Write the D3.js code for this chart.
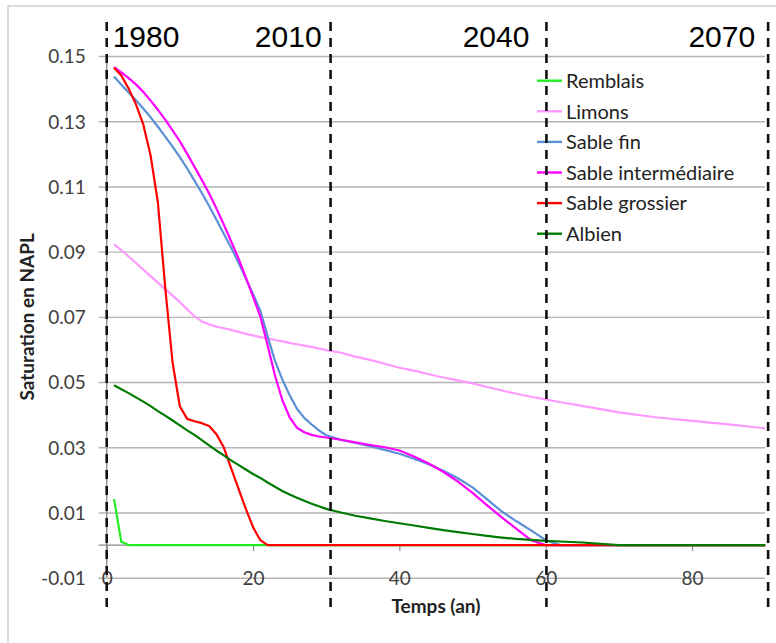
<!DOCTYPE html>
<html>
<head>
<meta charset="utf-8">
<script src="https://cdn.jsdelivr.net/npm/d3@7"></script>
<style>
  html, body { margin: 0; padding: 0; background: #ffffff; }
  svg { display: block; }
  text { font-family: Lato, "Open Sans", sans-serif; }
</style>
</head>
<body>
<svg id="chart" width="776" height="643"></svg>
<script>
// Temps (an) at which each series is sampled
const years = [1, 2, 3, 4, 5, 6, 7, 8, 9, 10, 11, 12, 13, 14, 15, 16, 17, 18, 19, 20,
  21, 22, 23, 24, 25, 26, 27, 28, 29, 30, 32, 34, 36, 38, 40, 42, 44, 46, 48, 50,
  52, 54, 56, 58, 60, 62, 65, 70, 75, 80, 85, 90];

const remblais = [0.0141, 0.0010, 0, 0, 0, 0, 0, 0, 0, 0, 0, 0, 0, 0, 0, 0, 0, 0, 0, 0,
  0, 0, 0, 0, 0, 0, 0, 0, 0, 0, 0, 0, 0, 0, 0, 0, 0, 0, 0, 0,
  0, 0, 0, 0, 0, 0, 0, 0, 0, 0, 0, 0];

const limons = [0.0922, 0.0905, 0.0885, 0.0865, 0.0845, 0.0825, 0.0805, 0.0785, 0.0765, 0.0745,
  0.0723, 0.0702, 0.0686, 0.0677, 0.0670, 0.0665, 0.0660, 0.0654, 0.0648, 0.0643,
  0.0638, 0.0634, 0.0629, 0.0625, 0.0620, 0.0616, 0.0612, 0.0608, 0.0603, 0.0598,
  0.0590, 0.0578, 0.0568, 0.0556, 0.0544, 0.0535, 0.0524, 0.0514, 0.0505, 0.0496,
  0.0485, 0.0474, 0.0464, 0.0455, 0.0447, 0.0438, 0.0427, 0.0407, 0.0392, 0.0381, 0.0370, 0.0358];

const sableFin = [0.1437, 0.1412, 0.1388, 0.1364, 0.1339, 0.1312, 0.1283, 0.1253, 0.1222, 0.1190,
  0.1155, 0.1118, 0.1080, 0.1040, 0.0998, 0.0955, 0.0913, 0.0867, 0.0818, 0.0770,
  0.0718, 0.0640, 0.0565, 0.0508, 0.0460, 0.0418, 0.0390, 0.0370, 0.0352, 0.0337,
  0.0323, 0.0313, 0.0303, 0.0292, 0.0280, 0.0265, 0.0248, 0.0228, 0.0205, 0.0177,
  0.0140, 0.0103, 0.0073, 0.0045, 0.0015, 0, 0, 0, 0, 0, 0, 0];

const sableInter = [0.1466, 0.1450, 0.1432, 0.1413, 0.1390, 0.1363, 0.1335, 0.1305, 0.1272, 0.1238,
  0.1200, 0.1160, 0.1120, 0.1078, 0.1032, 0.0983, 0.0932, 0.0880, 0.0822, 0.0762,
  0.0700, 0.0612, 0.0520, 0.0445, 0.0392, 0.0360, 0.0346, 0.0338, 0.0333, 0.0330,
  0.0323, 0.0315, 0.0307, 0.0300, 0.0290, 0.0272, 0.0250, 0.0225, 0.0195, 0.0160,
  0.0122, 0.0085, 0.0050, 0.0015, 0, 0, 0, 0, 0, 0, 0, 0];

const sableGrossier = [0.1464, 0.1440, 0.1400, 0.1352, 0.1290, 0.1195, 0.1050, 0.0790, 0.0560, 0.0425,
  0.0387, 0.0380, 0.0374, 0.0365, 0.0340, 0.0300, 0.0236, 0.0174, 0.0112, 0.0055,
  0.0015, 0, 0, 0, 0, 0, 0, 0, 0, 0, 0, 0, 0, 0, 0, 0, 0, 0, 0, 0,
  0, 0, 0, 0, 0, 0, 0, 0, 0, 0, 0, 0];

const albien = [0.0490, 0.0478, 0.0466, 0.0453, 0.0440, 0.0426, 0.0411, 0.0397, 0.0382, 0.0367,
  0.0352, 0.0338, 0.0322, 0.0306, 0.0290, 0.0275, 0.0260, 0.0246, 0.0232, 0.0218,
  0.0206, 0.0192, 0.0179, 0.0166, 0.0155, 0.0145, 0.0136, 0.0127, 0.0119, 0.0111,
  0.0100, 0.0090, 0.0082, 0.0074, 0.0067, 0.0060, 0.0053, 0.0046, 0.0040, 0.0034,
  0.0028, 0.0023, 0.0019, 0.0016, 0.0013, 0.0011, 0.0008, 0, 0, 0, 0, 0];

const seriesNames = ["Remblais", "Limons", "Sable fin", "Sable intermédiaire", "Sable grossier", "Albien"];
const seriesValues = [remblais, limons, sableFin, sableInter, sableGrossier, albien];
const seriesColors = ["#22ee22", "#ff99ff", "#5b8fd6", "#ff00ff", "#ff0000", "#007a00"];

const yTicks = [-0.01, 0.01, 0.03, 0.05, 0.07, 0.09, 0.11, 0.13, 0.15];
const xTicks = [0, 20, 40, 60, 80];

// Period markers (calendar year drawn above each dashed line)
const periodLabels = ["1980", "2010", "2040", "2070"];
const periodTimes = [0, 30.6, 60.1, 90.4];

const svg = d3.select("#chart");

const x = d3.scaleLinear().domain([0, 90]).range([106.7, 765.2]);
const y = d3.scaleLinear().domain([-0.01, 0.15]).range([577.7, 56]);

// Plain hyphen for negatives, two decimals
const fmtY = d => (d < 0 ? "-" : "") + Math.abs(d).toFixed(2);

// Outer frame
svg.append("path")
  .attr("d", "M8,650 L8,6 L790,6")
  .attr("fill", "none")
  .attr("stroke", "#cfcfcf")
  .attr("stroke-width", 1.5);

// Horizontal gridlines with left tick marks
const yAxis = d3.axisLeft(y)
  .tickValues(yTicks)
  .tickSize(-(x.range()[1] - x.range()[0]) - 8)
  .tickFormat(fmtY);

const gy = svg.append("g")
  .attr("transform", `translate(${x.range()[0] - 8},0)`)
  .call(yAxis);
gy.select(".domain").remove();
gy.selectAll(".tick line")
  .attr("stroke", "#b4b4b4")
  .attr("stroke-width", 1.4);
gy.selectAll(".tick text")
  .attr("x", -13)
  .attr("dy", "0.36em")
  .attr("fill", "#404040")
  .style("font-size", "19px");

// Vertical value axis line
svg.append("line")
  .attr("x1", x(0)).attr("x2", x(0))
  .attr("y1", y(0.15)).attr("y2", y(-0.01))
  .attr("stroke", "#8a8a8a")
  .attr("stroke-width", 1.4);

// Horizontal axis at zero, labels placed at the bottom of the plot
const gx = svg.append("g")
  .attr("transform", `translate(0,${y(0)})`)
  .call(d3.axisBottom(x).tickValues(xTicks).tickSize(6).tickFormat(d3.format("d")));
gx.select(".domain")
  .attr("d", `M${x.range()[0] - 8},0H${x.range()[1]}`)
  .attr("stroke", "#8a8a8a")
  .attr("stroke-width", 1.4);
gx.selectAll(".tick line")
  .attr("stroke", "#8a8a8a")
  .attr("stroke-width", 1.2);
gx.selectAll(".tick text")
  .attr("y", y(-0.01) - y(0))
  .attr("dy", "0.36em")
  .attr("fill", "#404040")
  .style("font-size", "19px");

// Series lines
const line = d3.line()
  .x((d, i) => x(years[i]))
  .y(d => y(d));

svg.append("g")
  .selectAll("path")
  .data(seriesValues)
  .join("path")
  .attr("d", d => line(d))
  .attr("fill", "none")
  .attr("stroke", (d, i) => seriesColors[i])
  .attr("stroke-width", 2.2)
  .attr("stroke-linejoin", "round");

// Legend
const legend = svg.append("g");
seriesNames.forEach((name, i) => {
  const ly = 80.7 + i * 30.6;
  legend.append("line")
    .attr("x1", 537).attr("x2", 562)
    .attr("y1", ly).attr("y2", ly)
    .attr("stroke", seriesColors[i])
    .attr("stroke-width", 2.4);
  legend.append("text")
    .attr("x", 566)
    .attr("y", ly)
    .attr("dy", "0.36em")
    .attr("fill", "#222")
    .style("font-size", "20px")
    .text(name);
});

// Axis titles
svg.append("text")
  .attr("x", (x.range()[0] + x.range()[1]) / 2)
  .attr("y", 606)
  .attr("dy", "0.36em")
  .attr("text-anchor", "middle")
  .attr("fill", "#222")
  .style("font-size", "19px")
  .style("font-weight", "bold")
  .text("Temps (an)");

svg.append("text")
  .attr("transform", `translate(27,${(y.range()[0] + y.range()[1]) / 2}) rotate(-90)`)
  .attr("dy", "0.36em")
  .attr("text-anchor", "middle")
  .attr("fill", "#222")
  .style("font-size", "19px")
  .style("font-weight", "bold")
  .text("Saturation en NAPL");

// Dashed period lines and their year labels
const periods = svg.append("g");
periodTimes.forEach(t => {
  periods.append("line")
    .attr("x1", x(t)).attr("x2", x(t))
    .attr("y1", 22).attr("y2", 608)
    .attr("stroke", "#111")
    .attr("stroke-width", 2.6)
    .attr("stroke-dasharray", "9,7");
});
const labelOffsets = [6, -9, -17, -13];
periodLabels.forEach((lab, i) => {
  periods.append("text")
    .attr("x", x(periodTimes[i]) + labelOffsets[i])
    .attr("y", 47)
    .attr("text-anchor", i === 0 ? "start" : "end")
    .attr("fill", "#000")
    .style("font-family", "'Liberation Sans', Arial, sans-serif")
    .style("font-size", "30px")
    .text(lab);
});
</script>
</body>
</html>
